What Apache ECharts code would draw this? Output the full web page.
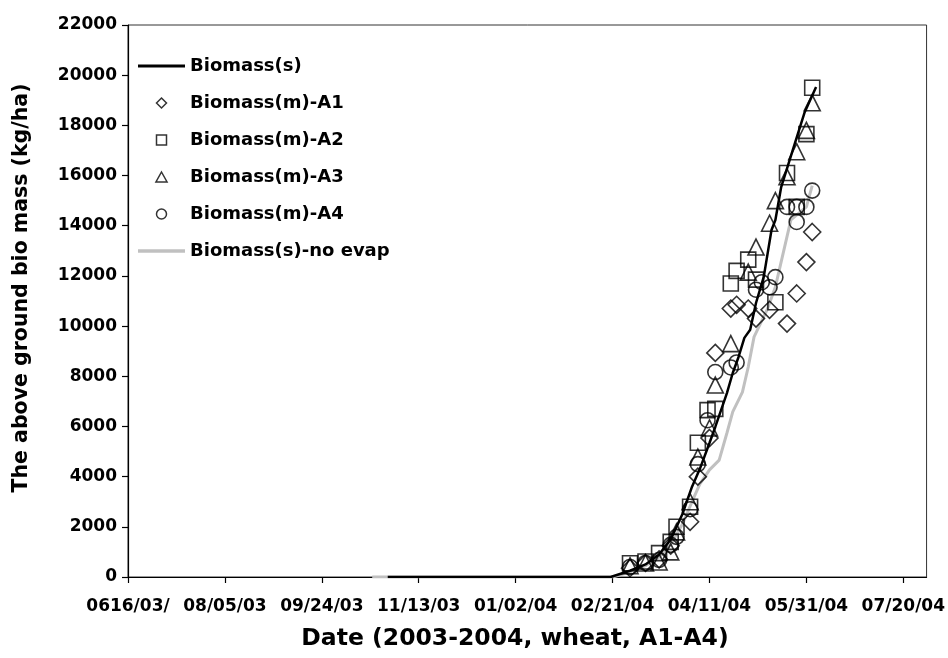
<!DOCTYPE html>
<html>
<head>
<meta charset="utf-8">
<script src="https://cdn.jsdelivr.net/npm/echarts@6/dist/echarts.min.js"></script>
<style>
html,body{margin:0;padding:0;background:#fff;}
#c{width:948px;height:658px;}
</style>
</head>
<body>
<div id="c"></div>
<script>
// ---- data ----
var xTickLabels = ["0616/03/", "08/05/03", "09/24/03", "11/13/03", "01/02/04", "02/21/04", "04/11/04", "05/31/04", "07/20/04"];
var yTicks = [0, 2000, 4000, 6000, 8000, 10000, 12000, 14000, 16000, 18000, 20000, 22000];

var simDates = ["2003-10-28","2004-02-20","2004-03-01","2004-03-09","2004-03-16","2004-03-22","2004-03-28","2004-04-02","2004-04-06","2004-04-11","2004-04-14","2004-04-20","2004-04-23","2004-04-26","2004-04-29","2004-05-02","2004-05-05","2004-05-09","2004-05-13","2004-05-15","2004-05-18","2004-05-24","2004-05-30","2004-06-05"];
var simValues = [0, 0, 250, 500, 900, 1500, 2500, 3600, 4300, 5340, 5980, 7330, 8130, 8770, 9530, 9850, 10920, 11960, 13830, 14230, 15540, 17020, 18500, 19530];

var noEvapDates = ["2003-10-20","2004-02-21","2004-03-01","2004-03-09","2004-03-16","2004-03-22","2004-03-28","2004-04-02","2004-04-06","2004-04-11","2004-04-16","2004-04-20","2004-04-23","2004-04-28","2004-05-01","2004-05-04","2004-05-11","2004-05-15","2004-05-23","2004-05-31","2004-06-03"];
var noEvapValues = [0, 0, 200, 450, 800, 1300, 2100, 3000, 3700, 4270, 4660, 5740, 6580, 7370, 8370, 9570, 10700, 11560, 14230, 14750, 15600];

var a1Dates = ["2004-03-01","2004-03-09","2004-03-16","2004-03-22","2004-04-01","2004-04-05","2004-04-11","2004-04-14","2004-04-22","2004-04-25","2004-05-01","2004-05-05","2004-05-12","2004-05-21","2004-05-26","2004-05-31","2004-06-03"];
var a1Values = [350, 560, 700, 1250, 2200, 4000, 5540, 8930, 10700, 10850, 10700, 10300, 10650, 10100, 11300, 12550, 13750];

var a2Dates = ["2004-03-01","2004-03-09","2004-03-16","2004-03-22","2004-03-25","2004-04-01","2004-04-05","2004-04-10","2004-04-14","2004-04-22","2004-04-25","2004-05-01","2004-05-05","2004-05-15","2004-05-21","2004-05-26","2004-05-31","2004-06-03"];
var a2Values = [550, 620, 950, 1400, 2000, 2800, 5350, 6650, 6700, 11700, 12200, 12650, 11850, 10950, 16100, 14750, 17650, 19500];

var a3Dates = ["2004-03-01","2004-03-09","2004-03-16","2004-03-22","2004-03-25","2004-04-01","2004-04-05","2004-04-11","2004-04-14","2004-04-22","2004-05-01","2004-05-05","2004-05-12","2004-05-15","2004-05-21","2004-05-26","2004-05-31","2004-06-03"];
var a3Values = [450, 560, 600, 1000, 1800, 3000, 4780, 5940, 7650, 9300, 12150, 13150, 14100, 15000, 15950, 16950, 17800, 18900];

var a4Dates = ["2004-03-01","2004-03-09","2004-03-16","2004-03-22","2004-03-25","2004-04-01","2004-04-05","2004-04-10","2004-04-14","2004-04-22","2004-04-25","2004-05-05","2004-05-08","2004-05-12","2004-05-15","2004-05-21","2004-05-26","2004-05-26","2004-05-31","2004-06-03"];
var a4Values = [400, 560, 680, 1280, 1600, 2700, 4500, 6250, 8170, 8350, 8550, 11450, 11750, 11550, 11950, 14750, 14150, 14750, 14750, 15400];

// ---- helpers ----
var ORIGIN = Date.UTC(2003, 5, 16);
function dayNum(s) {
  var p = s.split('-');
  return (Date.UTC(+p[0], +p[1] - 1, +p[2]) - ORIGIN) / 86400000;
}
function pairs(d, v) { return d.map(function (s, i) { return [dayNum(s), v[i]]; }); }

var FONT = 'DejaVu Sans';
var tickVals = xTickLabels.map(function (_, i) { return i * 50; });

var markerStyle = { color: 'rgba(0,0,0,0)', borderColor: '#000', borderWidth: 1.6 };
var legendMarker = { color: 'rgba(0,0,0,0)', borderColor: '#000', borderWidth: 1.5 };

var chart = echarts.init(document.getElementById('c'), null, { renderer: 'canvas' });
chart.setOption({
  animation: false,
  backgroundColor: '#fff',
  grid: { left: 128, right: 20, top: 25, bottom: 81, show: true, borderColor: '#333', borderWidth: 1 },
  legend: {
    orient: 'vertical', left: 133, top: 50,
    itemWidth: 47, itemHeight: 10, itemGap: 15,
    symbolKeepAspect: true,
    textStyle: { fontFamily: FONT, fontWeight: 'bold', fontSize: 18, color: '#000', lineHeight: 22 },
    data: [
      { name: 'Biomass(s)', icon: 'path://M0,0H47V3.2H0Z', itemStyle: { color: '#000', borderWidth: 0 } },
      { name: 'Biomass(m)-A1', icon: 'path://M5,0L10,5L5,10L0,5Z', itemStyle: legendMarker },
      { name: 'Biomass(m)-A2', icon: 'path://M0,0H10V10H0Z', itemStyle: legendMarker },
      { name: 'Biomass(m)-A3', icon: 'path://M5,0L10,9L0,9Z', itemStyle: legendMarker },
      { name: 'Biomass(m)-A4', icon: 'circle', itemStyle: legendMarker },
      { name: 'Biomass(s)-no evap', icon: 'path://M0,0H47V3.6H0Z', itemStyle: { color: '#c0c0c0', borderWidth: 0 } }
    ]
  },
  xAxis: {
    type: 'value', min: 0, max: 412, interval: 50,
    splitLine: { show: false },
    axisLine: { lineStyle: { color: '#000', width: 1.2 } },
    axisTick: { show: true, length: 6, lineStyle: { color: '#000', width: 1.2 }, customValues: tickVals },
    axisLabel: {
      customValues: tickVals, margin: 21,
      fontFamily: FONT, fontWeight: 'bold', fontSize: 17, color: '#000',
      formatter: function (v) { var i = Math.round(v / 50); return xTickLabels[i] || ''; }
    }
  },
  yAxis: {
    type: 'value', min: yTicks[0], max: yTicks[yTicks.length - 1], interval: 2000,
    splitLine: { show: false },
    axisLine: { show: true, lineStyle: { color: '#000', width: 1.2 } },
    axisTick: { show: true, length: 6, lineStyle: { color: '#000', width: 1.2 } },
    axisLabel: { margin: 11, fontFamily: FONT, fontWeight: 'bold', fontSize: 17, color: '#000', formatter: function (v) { return String(v); } }
  },
  graphic: [
    { type: 'text', x: 515, y: 639, style: { text: 'Date (2003-2004, wheat, A1-A4)', fontFamily: FONT, fontWeight: 'bold', fontSize: 23.5, fill: '#000', align: 'center', verticalAlign: 'middle' } },
    { type: 'text', x: 22, y: 288, rotation: Math.PI / 2, style: { text: 'The above ground bio mass (kg/ha)', fontFamily: FONT, fontWeight: 'bold', fontSize: 20.5, fill: '#000', align: 'center', verticalAlign: 'middle' } }
  ],
  series: [
    { name: 'Biomass(s)-no evap', type: 'line', data: pairs(noEvapDates, noEvapValues), symbol: 'none', lineStyle: { color: '#c0c0c0', width: 3 }, itemStyle: { color: '#c0c0c0' }, z: 1 },
    { name: 'Biomass(s)', type: 'line', data: pairs(simDates, simValues), symbol: 'none', lineStyle: { color: '#000', width: 2.5 }, itemStyle: { color: '#000' }, z: 3 },
    { name: 'Biomass(m)-A1', type: 'scatter', data: pairs(a1Dates, a1Values), symbol: 'diamond', symbolSize: 17, itemStyle: markerStyle, z: 2 },
    { name: 'Biomass(m)-A2', type: 'scatter', data: pairs(a2Dates, a2Values), symbol: 'rect', symbolSize: 15, itemStyle: markerStyle, z: 2 },
    { name: 'Biomass(m)-A3', type: 'scatter', data: pairs(a3Dates, a3Values), symbol: 'triangle', symbolSize: 16, itemStyle: markerStyle, z: 2 },
    { name: 'Biomass(m)-A4', type: 'scatter', data: pairs(a4Dates, a4Values), symbol: 'circle', symbolSize: 15, itemStyle: markerStyle, z: 2 }
  ]
});
</script>
</body>
</html>
